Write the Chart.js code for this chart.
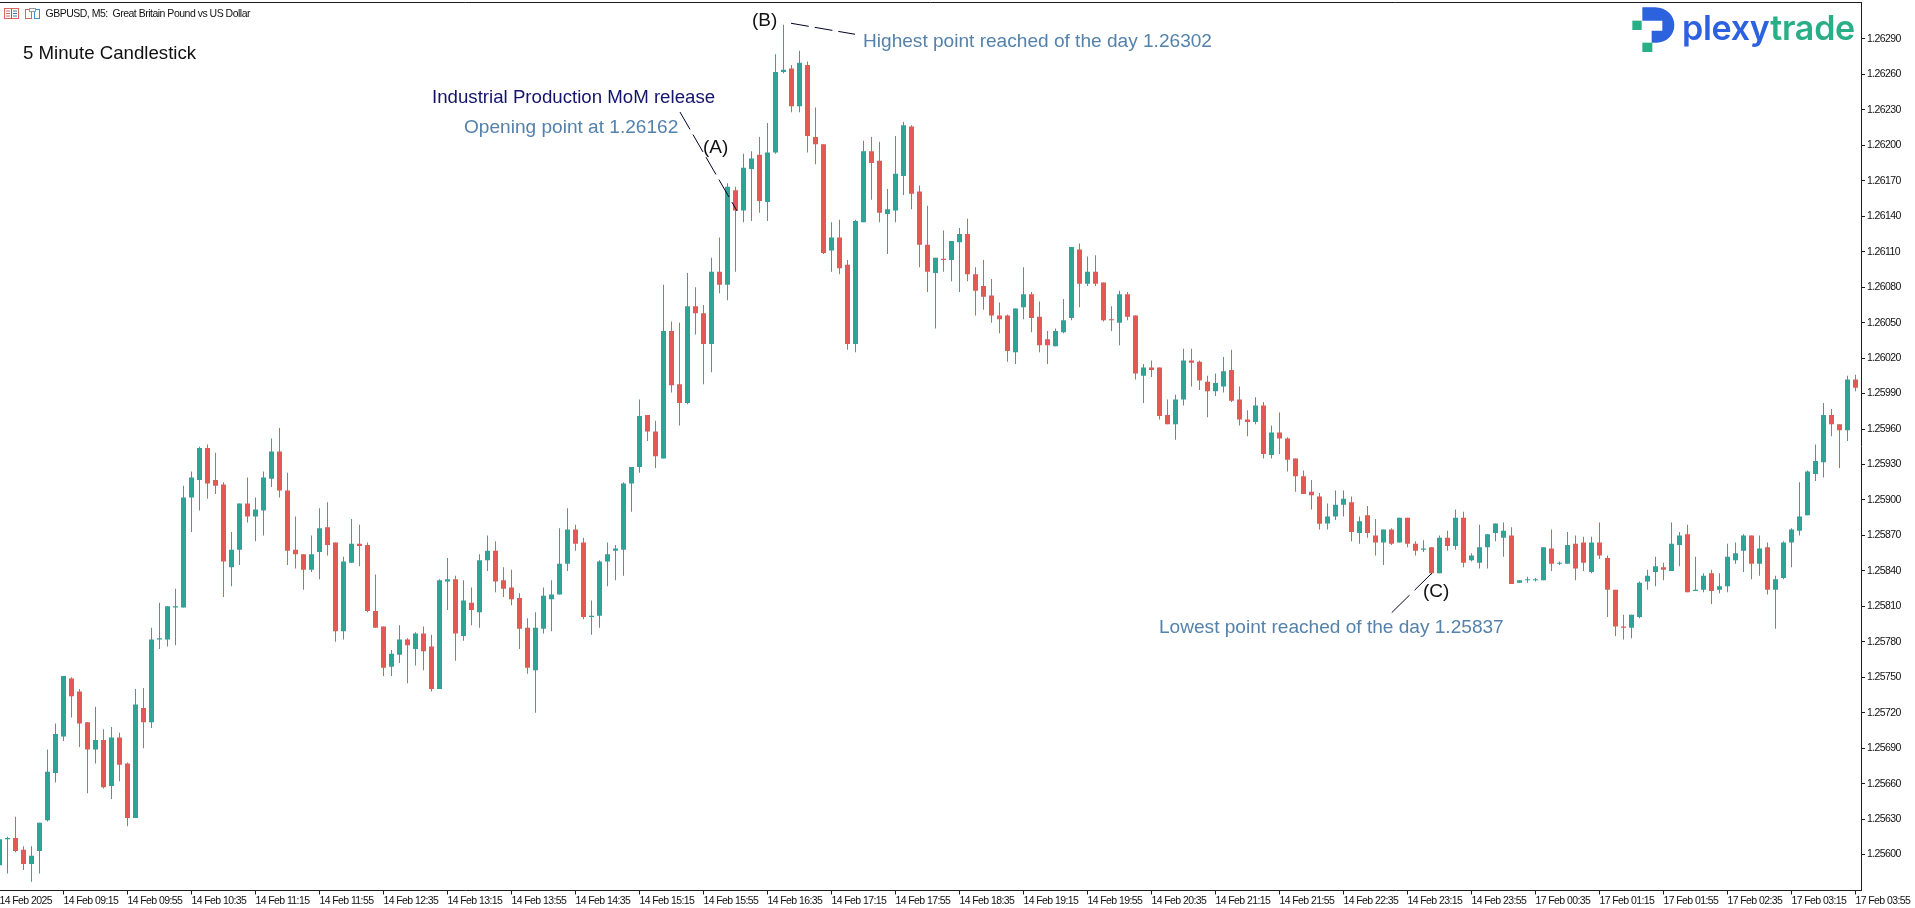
<!DOCTYPE html>
<html><head><meta charset="utf-8">
<script src="https://cdn.jsdelivr.net/npm/chart.js@4"></script>
<style>
html,body{margin:0;padding:0;background:#fff;width:1915px;height:908px;overflow:hidden}
#wrap{position:relative;width:1915px;height:908px}
canvas{position:absolute;left:0;top:0}
.t{position:absolute;white-space:pre;font-family:"Liberation Sans",Arial,sans-serif;font-size:18.67px;line-height:22px}
.s{font-size:19.08px;color:#5482ab}
</style></head><body>
<div id="wrap">
<canvas id="c" width="1915" height="908"></canvas>
<svg style="position:absolute;left:0;top:0" width="44" height="26" viewBox="0 0 44 26">
<rect x="4.5" y="8.5" width="14" height="10" fill="#fff" stroke="#d9655f"/><path d="M6 11h4M6 13.5h4M6 16h4" stroke="#d9655f"/><path d="M11.5 8.5v10M13 11h4M13 13.5h4M13 16h4" stroke="#3a78b5"/>
<rect x="25.5" y="9.5" width="6" height="9" fill="#fff" stroke="#d9655f"/><rect x="34.5" y="9.5" width="5" height="9" fill="#fff" stroke="#3a8fd0"/><rect x="29.5" y="8.5" width="6" height="3" fill="#fff" stroke="#999"/>
</svg>
<div class="t" style="left:45.5px;top:2px;font-size:10.5px;letter-spacing:-0.5px;color:#111">GBPUSD, M5:  Great Britain Pound vs US Dollar</div>
<div class="t" style="left:23px;top:42px;color:#111">5 Minute Candlestick</div>
<div class="t" style="left:432px;top:86px;color:#14146e">Industrial Production MoM release</div>
<div class="t s" style="left:464px;top:116px">Opening point at 1.26162</div>
<div class="t" style="left:703px;top:136px;color:#111;font-size:19px">(A)</div>
<div class="t" style="left:752px;top:9px;color:#111;font-size:19px">(B)</div>
<div class="t s" style="left:863px;top:30px">Highest point reached of the day 1.26302</div>
<div class="t" style="left:1423px;top:580px;color:#111;font-size:19px">(C)</div>
<div class="t s" style="left:1159px;top:616px">Lowest point reached of the day 1.25837</div>
<svg style="position:absolute;left:1625px;top:0" width="100" height="60" viewBox="0 0 300 180">
<path d="M52 22H90C125 22 148 48 148 75C148 105 125 128 95 128H80V92H112V62H52Z" fill="#2c62de"/>
<rect x="22" y="62" width="28" height="28" fill="#2aae85"/><rect x="52" y="128" width="30" height="28" fill="#2aae85"/>
</svg>
<div class="t" style="left:1682px;top:8px;font-family:Inter,'Liberation Sans';font-weight:600;font-size:34px;line-height:40px;letter-spacing:-0.25px"><span style="color:#2c62de">plexy</span><span style="color:#2aae85">trade</span></div>
</div>
<script>
const timeLabels=["14 Feb 2025","14 Feb 09:15","14 Feb 09:55","14 Feb 10:35","14 Feb 11:15","14 Feb 11:55","14 Feb 12:35","14 Feb 13:15","14 Feb 13:55","14 Feb 14:35","14 Feb 15:15","14 Feb 15:55","14 Feb 16:35","14 Feb 17:15","14 Feb 17:55","14 Feb 18:35","14 Feb 19:15","14 Feb 19:55","14 Feb 20:35","14 Feb 21:15","14 Feb 21:55","14 Feb 22:35","14 Feb 23:15","14 Feb 23:55","17 Feb 00:35","17 Feb 01:15","17 Feb 01:55","17 Feb 02:35","17 Feb 03:15","17 Feb 03:55"];
const priceTicks=[1.25600,1.25630,1.25660,1.25690,1.25720,1.25750,1.25780,1.25810,1.25840,1.25870,1.25900,1.25930,1.25960,1.25990,1.26020,1.26050,1.26080,1.26110,1.26140,1.26170,1.26200,1.26230,1.26260,1.26290];
const opens=[1.25591,1.25613,1.25614,1.25604,1.25592,1.25603,1.25629,1.25669,1.25700,1.25749,
1.25738,1.25712,1.25689,1.25697,1.25658,1.25699,1.25677,1.25631,1.25724,1.25712,
1.25782,1.25782,1.25809,1.25809,1.25902,1.25917,1.25944,1.25917,1.25913,1.25843,
1.25858,1.25897,1.25886,1.25891,1.25918,1.25941,1.25908,1.25858,1.25854,1.25841,
1.25856,1.25877,1.25864,1.25789,1.25847,1.25863,1.25862,1.25806,1.25793,1.25759,
1.25769,1.25782,1.25774,1.25787,1.25776,1.25740,1.25831,1.25833,1.25785,1.25813,
1.25805,1.25849,1.25857,1.25832,1.25826,1.25817,1.25792,1.25756,1.25791,1.25816,
1.25820,1.25846,1.25875,1.25864,1.25801,1.25802,1.25848,1.25857,1.25858,1.25914,
1.25928,1.25972,1.25958,1.25935,1.26043,1.25998,1.25982,1.26064,1.26058,1.26032,
1.26093,1.26082,1.26162,1.26145,1.26180,1.26192,1.26152,1.26194,1.26262,1.26265,
1.26233,1.26268,1.26207,1.26201,1.26111,1.26122,1.26099,1.26032,1.26135,1.26195,
1.26187,1.26142,1.26145,1.26174,1.26216,1.26161,1.26116,1.26092,1.26104,1.26103,
1.26118,1.26125,1.26091,1.26081,1.26073,1.26056,1.26056,1.26025,1.26063,1.26074,
1.26055,1.26036,1.26030,1.26042,1.26054,1.26112,1.26083,1.26093,1.26084,1.26053,
1.26050,1.26074,1.26056,1.26005,1.26012,1.26012,1.25972,1.25964,1.25985,1.26018,
1.26017,1.26000,1.25992,1.25996,1.26010,1.25985,1.25968,1.25966,1.25980,1.25938,
1.25957,1.25952,1.25935,1.25920,1.25907,1.25903,1.25880,1.25886,1.25896,1.25898,
1.25872,1.25887,1.25870,1.25864,1.25875,1.25864,1.25885,1.25863,1.25858,1.25860,
1.25838,1.25868,1.25861,1.25885,1.25849,1.25847,1.25860,1.25872,1.25868,1.25870,
1.25830,1.25832,1.25832,1.25832,1.25859,1.25846,1.25846,1.25863,1.25864,1.25839,
1.25864,1.25851,1.25824,1.25793,1.25792,1.25801,1.25831,1.25839,1.25843,1.25840,
1.25862,1.25871,1.25823,1.25824,1.25838,1.25824,1.25827,1.25849,1.25857,1.25870,
1.25846,1.25860,1.25824,1.25834,1.25864,1.25874,1.25887,1.25922,1.25932,1.25972,
1.25964,1.25959,1.26002];
const highs=[1.25614,1.25615,1.25632,1.25607,1.25607,1.25627,1.25689,1.25711,1.25751,1.25750,
1.25740,1.25712,1.25725,1.25706,1.25708,1.25703,1.25678,1.25740,1.25741,1.25792,
1.25813,1.25810,1.25825,1.25912,1.25924,1.25945,1.25947,1.25940,1.25915,1.25873,
1.25897,1.25919,1.25902,1.25924,1.25952,1.25961,1.25923,1.25886,1.25854,1.25870,
1.25893,1.25898,1.25864,1.25852,1.25884,1.25879,1.25864,1.25837,1.25793,1.25773,
1.25794,1.25783,1.25788,1.25793,1.25786,1.25833,1.25851,1.25836,1.25832,1.25826,
1.25854,1.25870,1.25865,1.25843,1.25841,1.25821,1.25800,1.25805,1.25826,1.25832,
1.25876,1.25893,1.25879,1.25868,1.25815,1.25849,1.25864,1.25862,1.25915,1.25928,
1.25985,1.25972,1.25967,1.26082,1.26051,1.26050,1.26092,1.26080,1.26065,1.26105,
1.26122,1.26168,1.26165,1.26193,1.26195,1.26207,1.26219,1.26277,1.26302,1.26268,
1.26280,1.26271,1.26232,1.26201,1.26135,1.26137,1.26103,1.26137,1.26204,1.26207,
1.26203,1.26163,1.26208,1.26220,1.26217,1.26166,1.26149,1.26105,1.26128,1.26119,
1.26130,1.26138,1.26097,1.26103,1.26087,1.26067,1.26057,1.26062,1.26097,1.26076,
1.26068,1.26043,1.26045,1.26070,1.26114,1.26117,1.26106,1.26107,1.26084,1.26064,
1.26077,1.26076,1.26056,1.26015,1.26018,1.26012,1.25985,1.25989,1.26028,1.26028,
1.26018,1.26005,1.26007,1.26021,1.26027,1.25996,1.25976,1.25987,1.25983,1.25963,
1.25974,1.25953,1.25935,1.25925,1.25917,1.25906,1.25897,1.25908,1.25908,1.25903,
1.25886,1.25895,1.25884,1.25875,1.25876,1.25885,1.25885,1.25865,1.25866,1.25860,
1.25870,1.25874,1.25892,1.25890,1.25855,1.25879,1.25871,1.25880,1.25881,1.25877,
1.25832,1.25835,1.25834,1.25860,1.25875,1.25848,1.25873,1.25870,1.25869,1.25869,
1.25881,1.25853,1.25824,1.25803,1.25803,1.25831,1.25841,1.25852,1.25847,1.25881,
1.25873,1.25879,1.25852,1.25838,1.25841,1.25838,1.25863,1.25864,1.25871,1.25870,
1.25870,1.25864,1.25836,1.25865,1.25876,1.25915,1.25925,1.25947,1.25982,1.25977,
1.25964,1.26005,1.26006];
const lows=[1.25589,1.25584,1.25602,1.25587,1.25577,1.25584,1.25628,1.25661,1.25696,1.25716,
1.25691,1.25652,1.25677,1.25656,1.25647,1.25662,1.25624,1.25631,1.25690,1.25707,
1.25774,1.25776,1.25777,1.25809,1.25873,1.25891,1.25901,1.25905,1.25818,1.25827,
1.25845,1.25881,1.25865,1.25870,1.25911,1.25902,1.25845,1.25842,1.25824,1.25839,
1.25833,1.25853,1.25780,1.25782,1.25847,1.25844,1.25805,1.25792,1.25751,1.25751,
1.25762,1.25745,1.25760,1.25756,1.25738,1.25740,1.25807,1.25764,1.25781,1.25794,
1.25792,1.25840,1.25822,1.25818,1.25811,1.25774,1.25753,1.25720,1.25787,1.25789,
1.25820,1.25840,1.25857,1.25799,1.25786,1.25792,1.25827,1.25832,1.25836,1.25890,
1.25923,1.25950,1.25927,1.25935,1.25991,1.25963,1.25981,1.26040,1.25998,1.26008,
1.26075,1.26069,1.26093,1.26135,1.26136,1.26143,1.26136,1.26193,1.26261,1.26228,
1.26228,1.26194,1.26184,1.26108,1.26093,1.26091,1.26027,1.26025,1.26135,1.26154,
1.26135,1.26108,1.26135,1.26158,1.26146,1.26097,1.26076,1.26045,1.26093,1.26085,
1.26076,1.26085,1.26056,1.26061,1.26050,1.26041,1.26017,1.26015,1.26053,1.26042,
1.26025,1.26015,1.26030,1.26041,1.26052,1.26063,1.26081,1.26081,1.26051,1.26043,
1.26031,1.26052,1.26002,1.25982,1.26004,1.25968,1.25964,1.25951,1.25980,1.25996,
1.25993,1.25970,1.25988,1.25991,1.25983,1.25963,1.25954,1.25964,1.25935,1.25935,
1.25939,1.25924,1.25907,1.25905,1.25892,1.25875,1.25875,1.25883,1.25886,1.25865,
1.25863,1.25868,1.25853,1.25845,1.25862,1.25864,1.25860,1.25853,1.25856,1.25837,
1.25838,1.25857,1.25858,1.25843,1.25848,1.25842,1.25842,1.25865,1.25852,1.25829,
1.25830,1.25830,1.25831,1.25832,1.25840,1.25845,1.25846,1.25832,1.25840,1.25838,
1.25850,1.25801,1.25785,1.25782,1.25783,1.25800,1.25824,1.25827,1.25832,1.25840,
1.25844,1.25822,1.25823,1.25822,1.25812,1.25821,1.25822,1.25846,1.25839,1.25833,
1.25836,1.25820,1.25791,1.25833,1.25843,1.25870,1.25887,1.25916,1.25919,1.25954,
1.25927,1.25950,1.25992];
const closes=[1.25613,1.25614,1.25603,1.25592,1.25599,1.25627,1.25670,1.25702,1.25751,1.25734,
1.25711,1.25689,1.25697,1.25657,1.25699,1.25676,1.25631,1.25727,1.25712,1.25782,
1.25783,1.25810,1.25810,1.25902,1.25919,1.25944,1.25914,1.25912,1.25848,1.25858,
1.25897,1.25886,1.25892,1.25919,1.25941,1.25908,1.25857,1.25854,1.25841,1.25854,
1.25876,1.25862,1.25789,1.25848,1.25863,1.25861,1.25806,1.25792,1.25758,1.25770,
1.25782,1.25777,1.25787,1.25772,1.25740,1.25832,1.25833,1.25787,1.25815,1.25807,
1.25849,1.25857,1.25831,1.25825,1.25816,1.25791,1.25758,1.25792,1.25819,1.25820,
1.25846,1.25875,1.25863,1.25801,1.25802,1.25848,1.25854,1.25859,1.25914,1.25928,
1.25971,1.25958,1.25937,1.26043,1.25997,1.25982,1.26064,1.26058,1.26032,1.26093,
1.26082,1.26165,1.26145,1.26181,1.26189,1.26153,1.26194,1.26262,1.26264,1.26233,
1.26270,1.26208,1.26201,1.26109,1.26122,1.26096,1.26032,1.26136,1.26195,1.26185,
1.26143,1.26146,1.26176,1.26217,1.26159,1.26116,1.26093,1.26105,1.26103,1.26119,
1.26125,1.26091,1.26077,1.26072,1.26056,1.26053,1.26026,1.26062,1.26074,1.26054,
1.26031,1.26031,1.26043,1.26052,1.26114,1.26083,1.26093,1.26083,1.26052,1.26052,
1.26074,1.26055,1.26007,1.26012,1.26010,1.25971,1.25964,1.25985,1.26018,1.26016,
1.26001,1.25992,1.25999,1.26009,1.25984,1.25968,1.25966,1.25980,1.25939,1.25957,
1.25952,1.25934,1.25920,1.25905,1.25904,1.25880,1.25886,1.25896,1.25901,1.25873,
1.25882,1.25872,1.25864,1.25875,1.25863,1.25885,1.25863,1.25857,1.25859,1.25838,
1.25868,1.25861,1.25885,1.25847,1.25853,1.25860,1.25871,1.25880,1.25874,1.25829,
1.25832,1.25833,1.25833,1.25860,1.25846,1.25847,1.25862,1.25842,1.25847,1.25864,
1.25853,1.25824,1.25793,1.25792,1.25803,1.25830,1.25836,1.25844,1.25841,1.25863,
1.25870,1.25822,1.25824,1.25836,1.25823,1.25827,1.25852,1.25855,1.25870,1.25846,
1.25859,1.25824,1.25833,1.25864,1.25875,1.25886,1.25924,1.25933,1.25972,1.25964,
1.25959,1.26002,1.25995];
// Dashed call-out leaders, in bar index / price terms
const leaderA=[{x:85.06,y:1.262282},{x:92.19,y:1.261445}];
const leaderB=[{x:98.94,y:1.263033},{x:106.94,y:1.26294}];
const leaderC=[{x:174.03,y:1.258047},{x:179.03,y:1.25838}];

const BULL='#2ea396',BEAR='#e25a56',INK='#1c1c1c';
const barColors=closes.map((c,i)=>c>=opens[i]?BULL:BEAR);
const wicks=lows.map((l,i)=>({x:i,y:[l,highs[i]]}));
const bodies=opens.map((o,i)=>({x:i,y:[o,closes[i]]}));
const tickFont={family:"'Liberation Sans',sans-serif",size:10.5};
const leader=(data,dash)=>({type:'line',data,borderColor:'#000028',borderWidth:1,borderDash:dash,pointRadius:0,order:0,fill:false,tension:0});
const frame={id:'frame',beforeDraw(ch){const a=ch.chartArea,x=ch.ctx;x.letterSpacing='-0.6px';x.save();x.strokeStyle=INK;x.lineWidth=1;x.beginPath();x.moveTo(0,2.5);x.lineTo(a.right,2.5);x.stroke();x.restore();}};
new Chart(document.getElementById('c'),{
 data:{datasets:[
  leader(leaderA,[20,6]),leader(leaderB,[18,6]),leader(leaderC,[25,7]),
  {type:'bar',data:bodies,backgroundColor:barColors,borderWidth:0,barThickness:5,grouped:false,order:1,inflateAmount:0},
  {type:'bar',data:wicks,backgroundColor:barColors,borderWidth:0,barThickness:1,grouped:false,order:2,inflateAmount:0}
 ]},
 plugins:[frame],
 options:{responsive:false,animation:false,devicePixelRatio:1,
  layout:{padding:{left:0,right:0,top:2,bottom:0}},
  plugins:{legend:{display:false},tooltip:{enabled:false},title:{display:false}},
  scales:{
   x:{type:'linear',offset:false,min:0.0625,max:232.6875,
    afterBuildTicks:s=>{s.ticks=timeLabels.map((_,i)=>({value:i*8}));},
    afterFit:s=>{s.height=17.5;s.paddingLeft=0;s.paddingRight=0;},
    grid:{offset:false,drawOnChartArea:false,drawTicks:true,tickLength:4,color:INK},
    border:{display:true,color:INK},
    ticks:{autoSkip:false,maxRotation:0,minRotation:0,align:'start',padding:0,color:'#111',font:tickFont,callback:(v)=>timeLabels[Math.round(v/8)]}},
   y:{type:'linear',position:'right',min:1.2556962,max:1.263213,
    afterBuildTicks:s=>{s.ticks=priceTicks.map(v=>({value:v}));},
    afterFit:s=>{s.width=54;s.paddingTop=0;s.paddingBottom=0;},
    grid:{drawOnChartArea:false,drawTicks:true,tickLength:4,color:INK},
    border:{display:true,color:INK},
    ticks:{padding:2,color:'#111',font:tickFont,callback:v=>v.toFixed(5)}}
  }}
});
</script>
</body></html>
